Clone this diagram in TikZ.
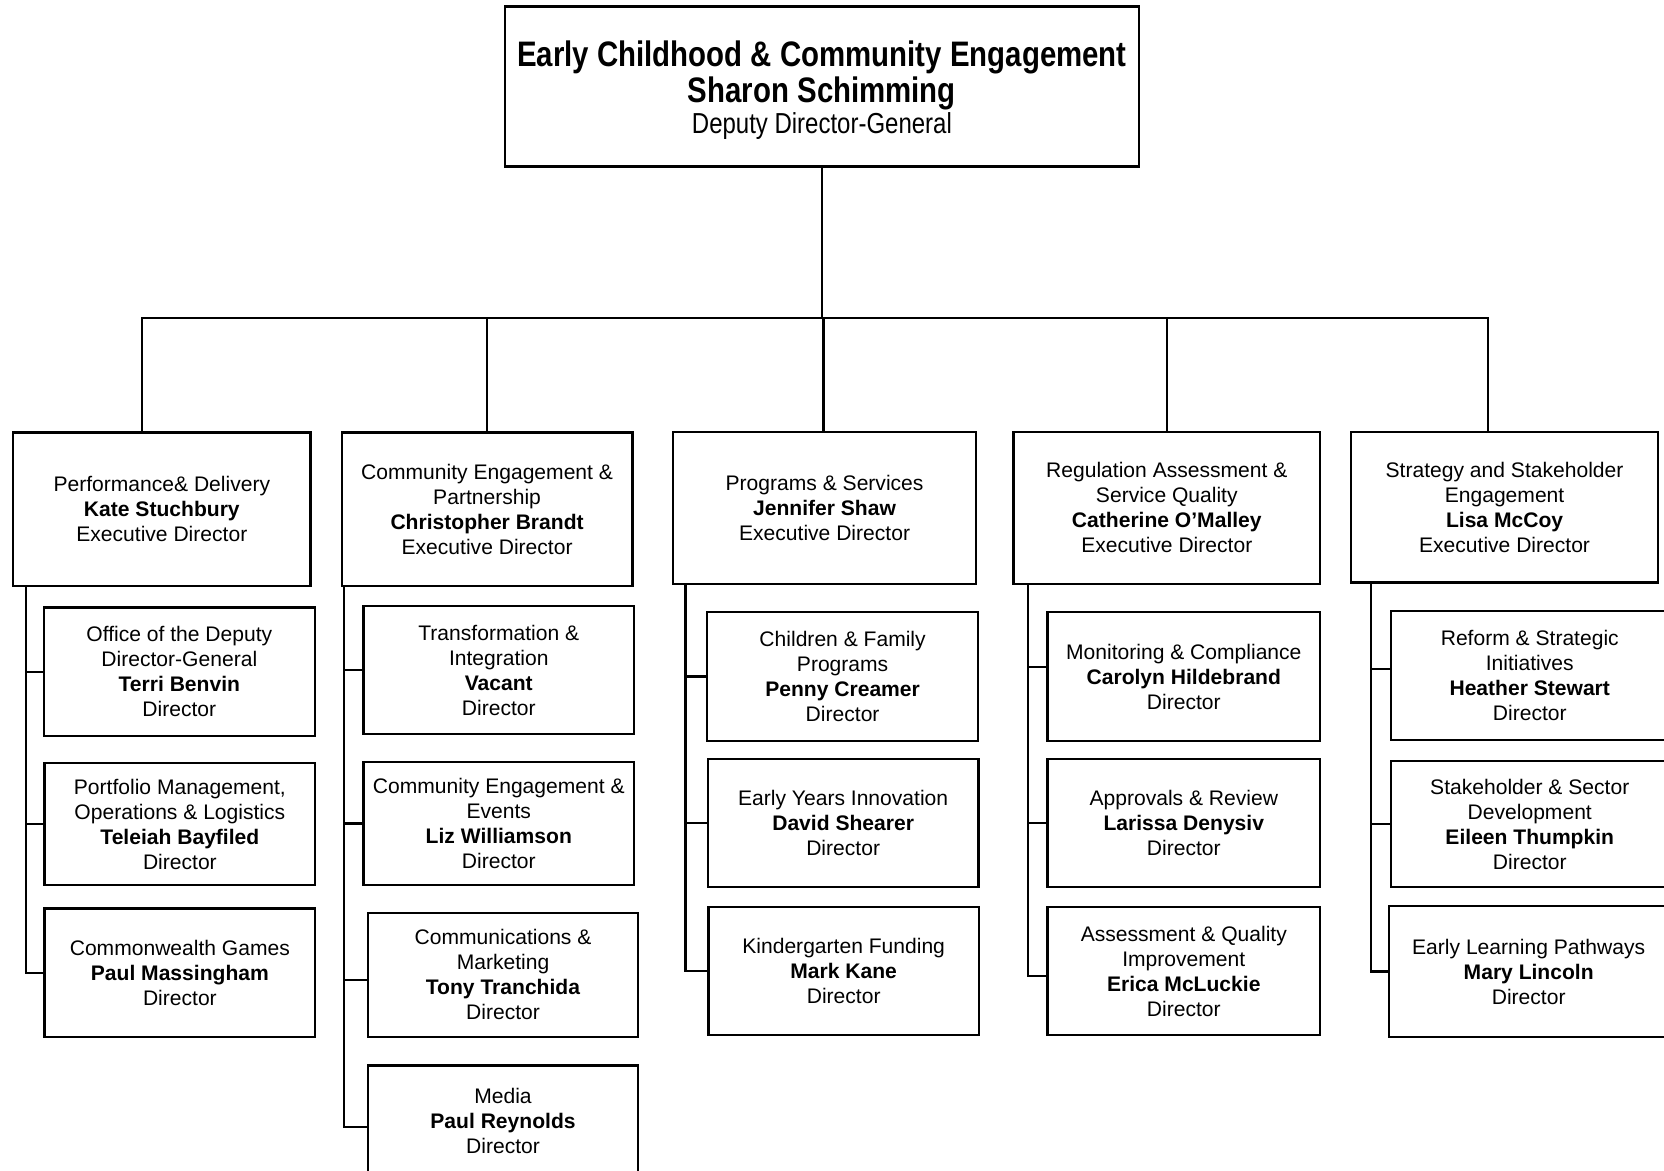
\documentclass[tikz,border=0pt]{standalone}
\usepackage{fontspec}
\setmainfont{Liberation Sans}
\newfontfamily\narrowfont[FakeStretch=0.83]{Liberation Sans}
\begin{document}
\begin{tikzpicture}[
  x=0.02cm, y=-0.02cm,
  line width=1.2pt,
  unit/.style={rectangle, draw, inner sep=0pt, align=center,
    font=\fontsize{11.3}{13.4}\selectfont},
  headbox/.style={unit, minimum width=5.75cm, minimum height=2.9cm},
  subbox/.style={unit, minimum width=5.1cm, minimum height=2.42cm},
  topbox/.style={rectangle, draw, inner sep=0pt, align=center,
    minimum width=11.94cm, minimum height=3.02cm,
    font=\narrowfont\fontsize{19}{19.4}\selectfont}
]
\clip (0,0) rectangle (1568,1103);

\node[topbox] (dg) at (774.5,81.5) {\rule{0pt}{17.3pt}\textbf{Early Childhood \& Community Engagement}\\\textbf{Sharon Schimming}\\[-3pt]{\fontsize{15.5}{17.6}\selectfont Deputy Director-General}};

\node[headbox, minimum width=5.6cm] (perf) at (152.5,480) {Performance\& Delivery\\\textbf{Kate Stuchbury}\\Executive Director};
\node[headbox, minimum width=5.48cm] (cep) at (459,480) {Community Engagement \&\\Partnership\\\textbf{Christopher Brandt}\\Executive Director};
\node[headbox, minimum width=5.72cm, minimum height=2.86cm] (prog) at (777,478.5) {Programs \& Services\\\textbf{Jennifer Shaw}\\Executive Director};
\node[headbox, minimum width=5.78cm, minimum height=2.86cm] (reg) at (1099.5,478.5) {Regulation Assessment \&\\Service Quality\\\textbf{Catherine O’Malley}\\Executive Director};
\node[headbox, minimum width=5.79cm, minimum height=2.84cm] (strat) at (1417.75,478) {Strategy and Stakeholder\\Engagement\\\textbf{Lisa McCoy}\\Executive Director};

% performance & delivery
\node[subbox] (off) at (169,633) {Office of the Deputy\\Director-General\\\textbf{Terri Benvin}\\Director};
\node[subbox, minimum height=2.31cm] (port) at (169.5,776.5) {Portfolio Management,\\Operations \& Logistics\\\textbf{Teleiah Bayfiled}\\Director};
\node[subbox] (cwg) at (169.5,916.5) {Commonwealth Games\\\textbf{Paul Massingham}\\Director};

% community engagement
\node[subbox] (trans) at (470,631.5) {Transformation \&\\Integration\\\textbf{Vacant}\\Director};
\node[subbox, minimum height=2.32cm] (cee) at (470,776) {Community Engagement \&\\Events\\\textbf{Liz Williamson}\\Director};
\node[subbox, minimum height=2.34cm] (comm) at (474,918.5) {Communications \&\\Marketing\\\textbf{Tony Tranchida}\\Director};
\node[subbox, minimum height=2.08cm] (media) at (474,1056) {Media\\\textbf{Paul Reynolds}\\Director};

% programs & services
\node[subbox] (cfp) at (794,637.5) {Children \& Family\\Programs\\\textbf{Penny Creamer}\\Director};
\node[subbox] (eyi) at (794.5,775.5) {Early Years Innovation\\\textbf{David Shearer}\\Director};
\node[subbox, minimum height=2.4cm] (kin) at (795,915) {Kindergarten Funding\\\textbf{Mark Kane}\\Director};

% regulation
\node[subbox, minimum width=5.14cm] (mon) at (1115.5,637.5) {Monitoring \& Compliance\\\textbf{Carolyn Hildebrand}\\Director};
\node[subbox, minimum width=5.14cm] (app) at (1115.5,775.5) {Approvals \& Review\\\textbf{Larissa Denysiv}\\Director};
\node[subbox, minimum width=5.14cm, minimum height=2.4cm] (ass) at (1115.5,915) {Assessment \& Quality\\Improvement\\\textbf{Erica McLuckie}\\Director};

% strategy
\node[subbox, minimum width=5.22cm] (ref) at (1441.5,636.5) {Reform \& Strategic\\Initiatives\\\textbf{Heather Stewart}\\Director};
\node[subbox, minimum width=5.22cm, minimum height=2.38cm] (shs) at (1441.5,776.5) {Stakeholder \& Sector\\Development\\\textbf{Eileen Thumpkin}\\Director};
\node[subbox, minimum width=5.26cm, minimum height=2.46cm] (elp) at (1440.5,915.5) {Early Learning Pathways\\\textbf{Mary Lincoln}\\Director};

% top level bus
\coordinate (busL) at (134,300);
\coordinate (busR) at (1402,300);
\draw (dg.south) -- (dg.south |- busL);
\draw (busL |- perf.north) -- (busL) -- (busR) -- (busR |- strat.north);
\draw (cep.north) -- (cep.north |- busL);
\draw ([xshift=-0.02cm]prog.north) -- ([xshift=-0.02cm]prog.north |- busL);
\draw (reg.north) -- (reg.north |- busL);

% spines
\coordinate (sp1) at (24.5,553);
\coordinate (sp2) at (324.5,553);
\coordinate (sp3) at (646,550);
\coordinate (sp4) at (969,550);
\coordinate (sp5) at (1292,549);
\foreach \n in {off,port,cwg} \draw (sp1) |- (\n.west);
\foreach \n in {trans,cee} \draw (sp2) |- (\n.west);
\draw (sp2) |- ([yshift=-0.1cm]comm.west);
\draw (sp2) |- ([yshift=-0.12cm]media.west);
\foreach \n in {cfp,eyi,kin} \draw (sp3) |- (\n.west);
\draw (sp4) |- ([yshift=0.18cm]mon.west);
\draw (sp4) |- (app.west);
\draw (sp4) |- ([yshift=-0.1cm]ass.west);
\draw (sp5) |- ([yshift=0.12cm]ref.west);
\draw (sp5) |- (shs.west);
\draw (sp5) |- (elp.west);
\end{tikzpicture}
\end{document}
